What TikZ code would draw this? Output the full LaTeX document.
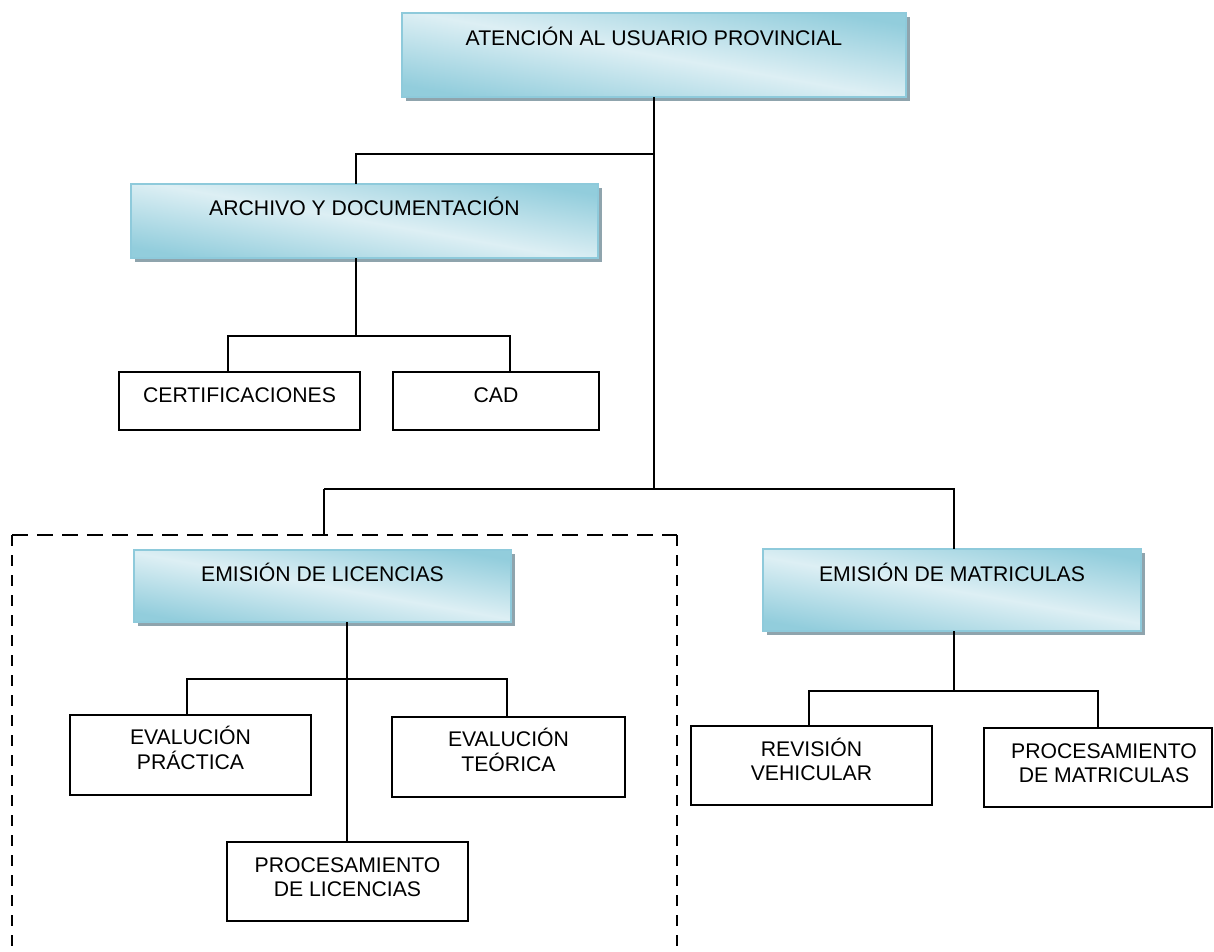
\documentclass[tikz,border=0pt]{standalone}
\usepackage{fontspec}
\setmainfont{Liberation Sans}
\usetikzlibrary{shadows}
\definecolor{gdark}{HTML}{92CDDC}
\definecolor{glight}{HTML}{DDEFF4}
\definecolor{gborder}{HTML}{8ECADB}
\definecolor{shadowc}{HTML}{8FA4AD}
\newcommand{\twol}[2]{\begin{tabular}[b]{@{}c@{}}#1\\#2\end{tabular}}
\newcommand{\twolr}[2]{\begin{tabular}[b]{@{\hspace{12pt}}c@{}}#1\\#2\end{tabular}}
\begin{document}
\begin{tikzpicture}[x=1pt,y=-1pt,
  every node/.style={font=\fontsize{21.2}{24}\selectfont, anchor=north west, inner sep=0pt, outer sep=0pt},
  gbox/.style={draw=gborder, line width=1.6pt, top color=gdark, bottom color=gdark, middle color=glight,
    shading angle=-10, general shadow={fill=shadowc, shadow xshift=3.5pt, shadow yshift=-4pt}, text height=16pt},
  pbox/.style={draw=black, line width=2pt, fill=white},
  oneline/.style={text height=16pt, text depth=12.6pt},
  twoline/.style={text height=29.5pt, text depth=0pt},
  conn/.style={line width=2pt, draw=black},
  hdash/.style={line width=2pt, dash pattern=on 16pt off 9pt},
  vdash/.style={line width=2pt, dash pattern=on 11pt off 9pt},
]
\useasboundingbox (0,0) rectangle (1214,951);
\clip (0,0) rectangle (1214,951);

% dashed frame
\coordinate (dl) at (12,535);
\coordinate (dr) at (677,535);
\coordinate (dlb) at (12,965);
\coordinate (drb) at (677,965);
\draw[hdash] (dl) -- (dr);
\draw[vdash] (dl) -- (dlb);
\draw[vdash] (dr) -- (drb);

% boxes
\node[gbox, minimum width=504pt, minimum height=84pt, text depth=34.8pt] (top) at (402,13) {ATENCIÓN AL USUARIO PROVINCIAL};
\node[gbox, minimum width=467pt, minimum height=74pt, text depth=28pt] (arch) at (131,184) {ARCHIVO Y DOCUMENTACIÓN};
\node[pbox, oneline, minimum width=241pt, minimum height=58pt] (cert) at (119,372) {CERTIFICACIONES};
\node[pbox, oneline, minimum width=206pt, minimum height=58pt] (cad) at (393,372) {CAD};
\node[gbox, minimum width=377pt, minimum height=72pt, text depth=24.6pt] (lic) at (134,550) {EMISIÓN DE LICENCIAS};
\node[gbox, minimum width=378pt, minimum height=82pt, text depth=32.6pt] (matr) at (763,549) {EMISIÓN DE MATRICULAS};
\node[pbox, twoline, minimum width=241pt, minimum height=80pt] (prac) at (70,715) {\twol{EVALUCIÓN}{PRÁCTICA}};
\node[pbox, twoline, minimum width=233pt, minimum height=80pt] (teo) at (392,717) {\twol{EVALUCIÓN}{TEÓRICA}};
\node[pbox, twoline, minimum width=241pt, minimum height=79pt] (plic) at (227,842) {\twol{PROCESAMIENTO}{DE LICENCIAS}};
\node[pbox, twoline, minimum width=241pt, minimum height=79pt] (rev) at (691,726) {\twol{REVISIÓN}{VEHICULAR}};
\node[pbox, twoline, minimum width=228pt, minimum height=79pt] (pmat) at (984,728) {\twolr{PROCESAMIENTO}{DE MATRICULAS}};

% junction coordinates
\coordinate (jm1) at (654,154);
\coordinate (ja) at (356,154);
\coordinate (ab) at (356,336);
\coordinate (cl) at (228,336);
\coordinate (cr) at (510,336);
\coordinate (jm2) at (654,489);
\coordinate (jl) at (324,489);
\coordinate (jr) at (954,489);
\coordinate (lb) at (347,679);
\coordinate (ll) at (187,679);
\coordinate (lr) at (507,679);
\coordinate (mb) at (954,691);
\coordinate (ml) at (809,691);
\coordinate (mr) at (1098,691);

% connectors
\draw[conn] (top.south) -- (top.south |- jm2);
\draw[conn] (jm1) -- (ja) -- (ja |- arch.north);
\draw[conn] (ja |- arch.south) -- (ab);
\draw[conn] (cl |- cert.north) -- (cl) -- (cr) -- (cr |- cad.north);
\draw[conn] (jl) -- (jr) -- (jr |- matr.north);
\draw[conn] (jl) -- (dl -| jl);
\draw[conn] (lb |- lic.south) -- (lb |- plic.north);
\draw[conn] (ll |- prac.north) -- (ll) -- (lr) -- (lr |- teo.north);
\draw[conn] (mb |- matr.south) -- (mb);
\draw[conn] (ml |- rev.north) -- (ml) -- (mr) -- (mr |- pmat.north);
\end{tikzpicture}
\end{document}
